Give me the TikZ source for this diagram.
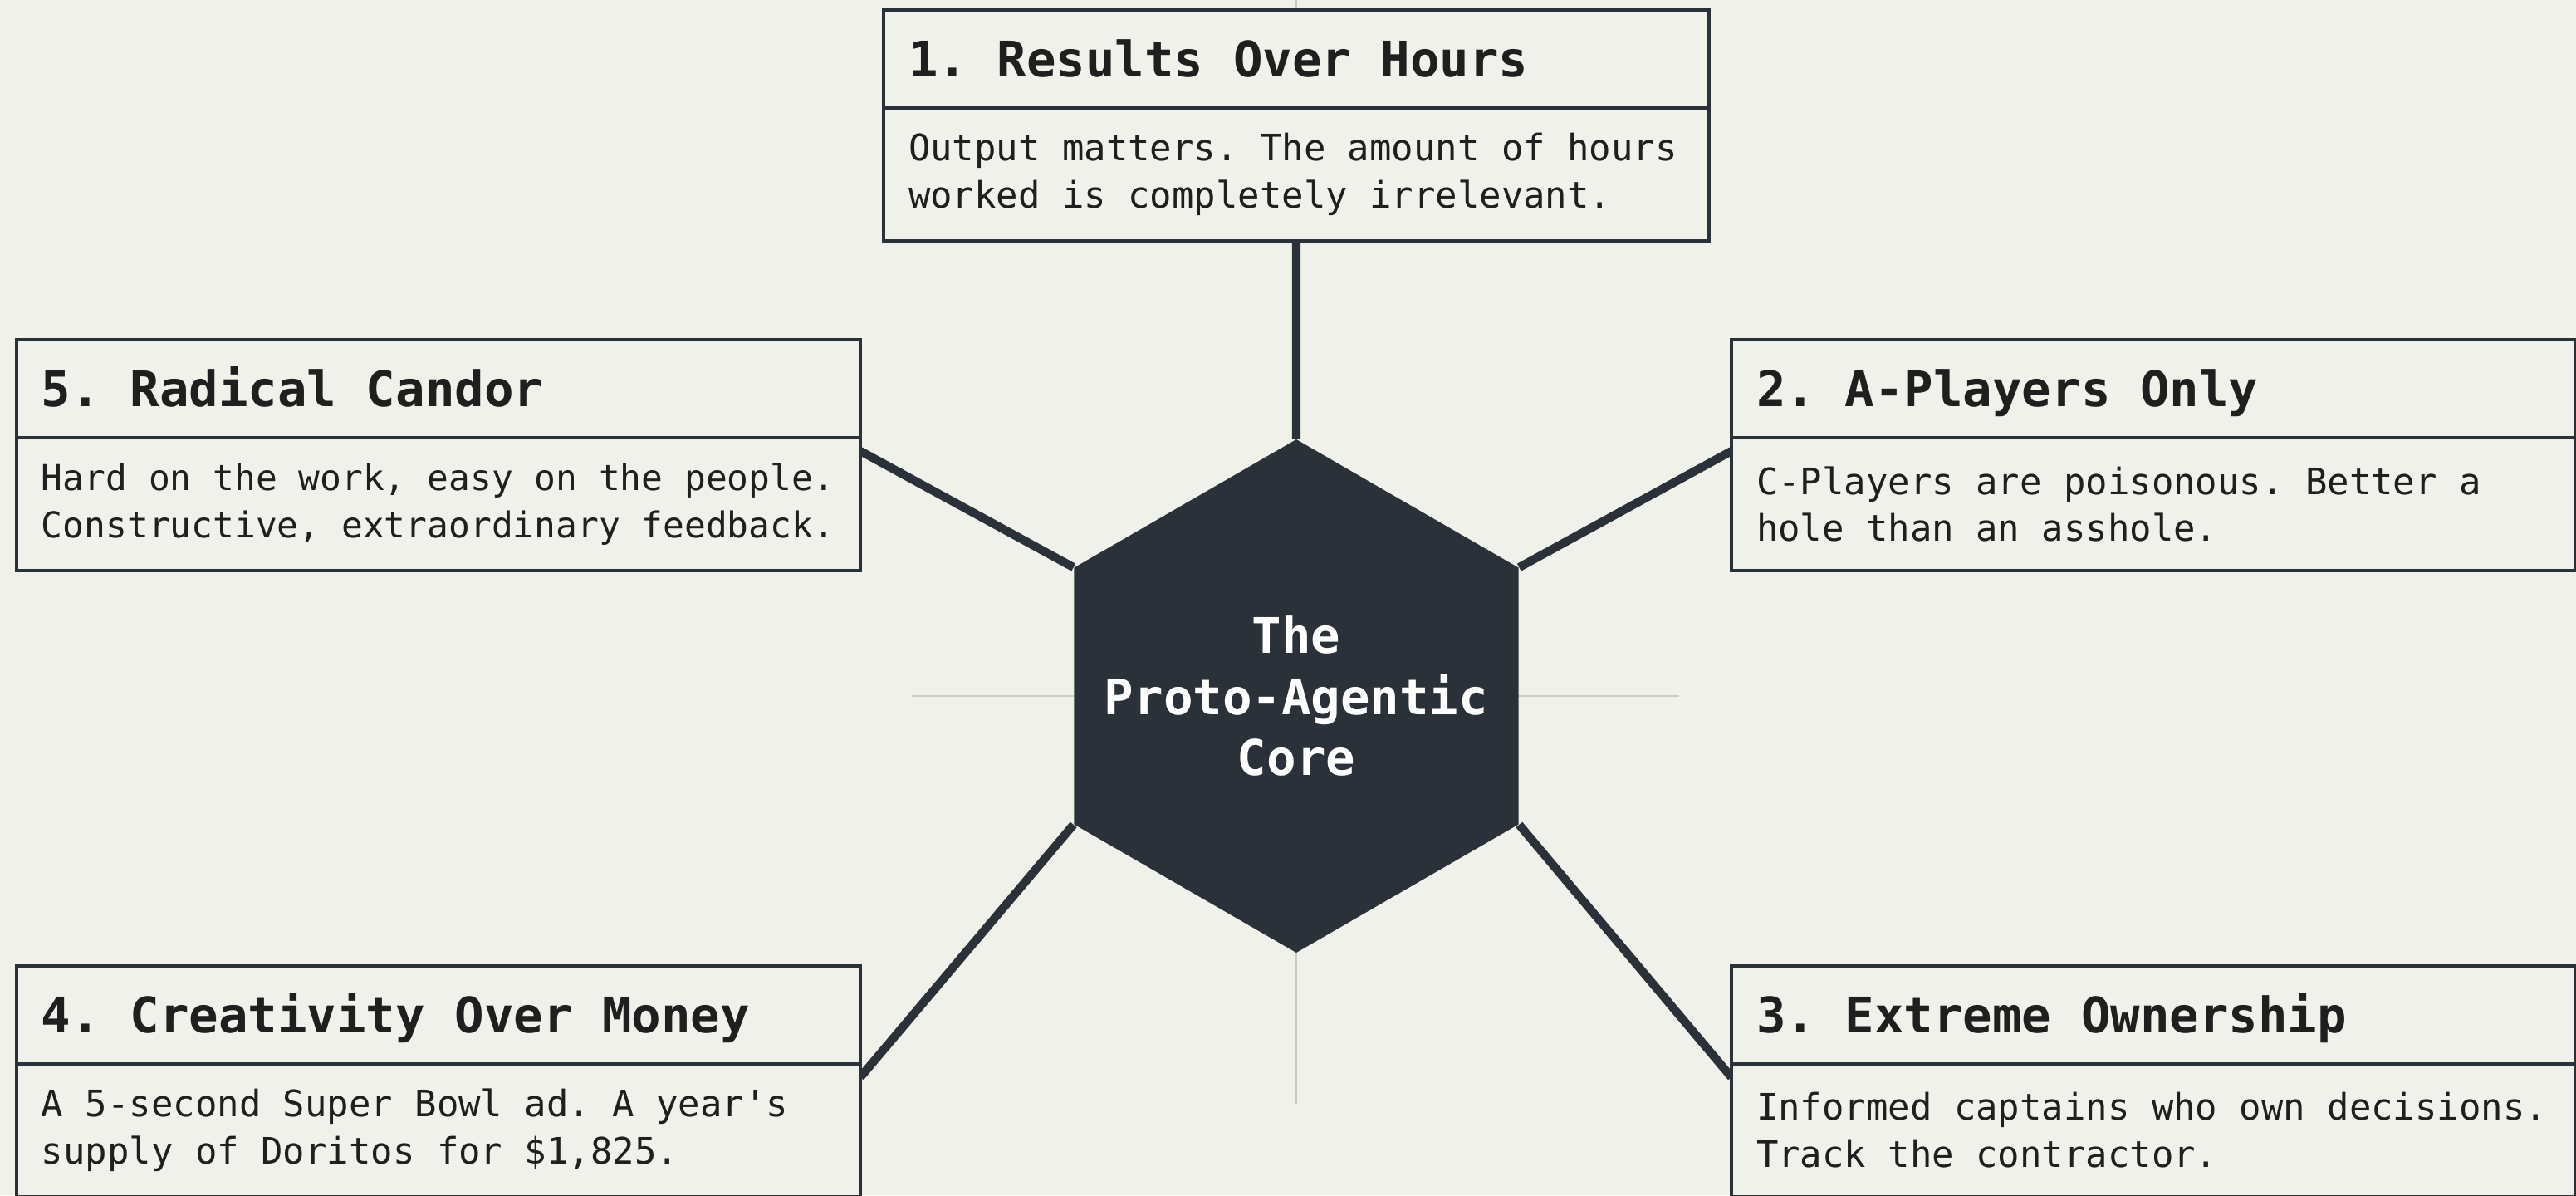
\documentclass[tikz,border=0pt]{standalone}
\usepackage{fontspec}
\setmainfont{DejaVu Sans Mono}
\usetikzlibrary{shapes.geometric, backgrounds, positioning}
\definecolor{paper}{HTML}{F1F1EC}
\definecolor{ink}{HTML}{2B3139}
\definecolor{guide}{HTML}{CDCDC8}
% fixed word gap, one character wide
\newcommand\gap{\hskip0.602em\relax}

\begin{document}
\begin{tikzpicture}
    [
        head/.style = {
            rectangle, draw=ink, fill=paper, line width=1pt, outer sep=0pt,
            anchor=north west, minimum height=1.18cm, inner xsep=0.3cm,
            text width=9.56cm, align=left, text height=16pt, text depth=3.7pt,
            text=black!88, font=\fontsize{16.8}{20.8}\selectfont\bfseries
            },
        body/.style = {
            rectangle, draw=ink, fill=paper, line width=1pt, outer sep=0pt,
            minimum height=1.6cm, inner xsep=0.3cm,
            text width=9.56cm, align=left,
            text=black!88, font=\fontsize{12.5}{16.2}\selectfont
            },
        core/.style = {
            regular polygon, regular polygon sides=6, shape border rotate=30,
            minimum size=6.18cm, inner sep=0pt, fill=ink
            },
        core text/.style = {
            text=white, align=center, font=\fontsize{16.8}{20.8}\selectfont\bfseries
            },
        link/.style = {
            draw=ink, line width=2.9pt
            },
        guideline/.style = {
            draw=guide, line width=0.6pt
            },
    ]
    \useasboundingbox (0,0) rectangle (31.02,-14.39);
    %nodes
    \node[core] (core) at (15.61,-8.38) {};
    \node[core text] (core label) at (core.center) {The\\Proto-Agentic\\Core};
    \node[head, text width=9.34cm] (h1) at (10.64,-0.12) {1.\gap Results\gap Over\gap Hours};
    \node[body, text width=9.34cm] (b1) [below=0pt of h1] {Output\gap matters.\gap The\gap amount\gap of\gap hours\\worked\gap is\gap completely\gap irrelevant.};
    \node[head] (h2) at (20.85,-4.09) {2.\gap A-Players\gap Only};
    \node[body] (b2) [below=0pt of h2] {C-Players\gap are\gap poisonous.\gap Better\gap a\\hole\gap than\gap an\gap asshole.};
    \node[head] (h3) at (20.85,-11.63) {3.\gap Extreme\gap Ownership};
    \node[body] (b3) [below=0pt of h3] {Informed\gap captains\gap who\gap own\gap decisions.\\Track\gap the\gap contractor.};
    \node[head] (h4) at (0.20,-11.63) {4.\gap Creativity\gap Over\gap Money};
    \node[body] (b4) [below=0pt of h4] {A\gap 5-second\gap Super\gap Bowl\gap ad.\gap A\gap year\textquotesingle s\\supply\gap of\gap Doritos\gap for\gap \$1,825.};
    \node[head] (h5) at (0.20,-4.09) {5.\gap Radical\gap Candor};
    \node[body, font=\fontsize{12.2}{16.2}\selectfont] (b5) [below=0pt of h5] {Hard\gap on\gap the\gap work,\gap easy\gap on\gap the\gap people.\\Constructive,\gap extraordinary\gap feedback.};
    %guide cross
    \coordinate (gtop) at (15.61,0);
    \coordinate (gbot) at (15.61,-13.29);
    \coordinate (gleft) at (10.98,-8.38);
    \coordinate (gright) at (20.22,-8.38);
    \begin{scope}[on background layer]
        \fill[paper] (0,0) rectangle (31.02,-14.39);
        \draw[guideline] (gtop) -- (gbot);
        \draw[guideline] (gleft) -- (gright);
        %connecting nodes
        \draw[link] (core.90) -- (b1.south);
        \draw[link] (core.30) -- ([yshift=-1.6mm]b2.north west);
        \draw[link] (core.330) -- ([yshift=-1.6mm]b3.north west);
        \draw[link] (core.210) -- ([yshift=-1.6mm]b4.north east);
        \draw[link] (core.150) -- ([yshift=-1.6mm]b5.north east);
    \end{scope}
\end{tikzpicture}
\end{document}
